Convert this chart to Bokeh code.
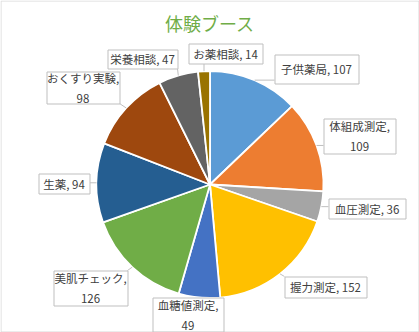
import numpy as np
from bokeh.plotting import figure
from bokeh.models import Range1d, ColumnDataSource
from bokeh.core.properties import value
from bokeh.embed import file_html
from bokeh.resources import INLINE

# ---------------- data ----------------
title_text = "体験ブース"
categories = ["子供薬局", "体組成測定", "血圧測定", "握力測定", "血糖値測定",
              "美肌チェック", "生薬", "おくすり実験", "栄養相談", "お薬相談"]
counts = [107, 109, 36, 152, 49, 126, 94, 98, 47, 14]

# ---------------- styles / layout ----------------
colors = ["#5B9BD5", "#ED7D31", "#A5A5A5", "#FFC000", "#4472C4",
          "#70AD47", "#255E91", "#9E480E", "#636363", "#997300"]
W, H = 419, 332
CX, CY, R = 209.5, 184.0, 113.5          # pie centre/radius, pixels from top-left
# label boxes (left, top, right, bottom), pixels from top-left
label_boxes = [(274, 54, 358, 83), (323, 118, 395, 153), (328, 198, 405, 218),
               (284, 276, 366, 297), (152, 297, 223, 331), (53, 270, 127, 305),
               (38, 173, 89, 193), (46, 71, 119, 103), (107, 49, 177, 68),
               (188, 43, 262, 63)]
label_wrap = [False, True, False, False, True, True, False, True, False, False]
FONT = value("Noto Sans CJK JP")
TXT = "#404040"

def fy(y):  # top-down pixel -> data y
    return H - y

p = figure(width=W, height=H, output_backend="svg", toolbar_location=None,
           x_range=Range1d(0, W), y_range=Range1d(0, H), min_border=0)
p.axis.visible = False
p.grid.visible = False
p.outline_line_color = None
p.background_fill_color = "white"
p.border_fill_color = "white"

# chart border
p.quad(left=[0.5], right=[W - 0.5], bottom=[0.5], top=[H - 0.5],
       fill_color=None, line_color="#D9D9D9", line_width=1)

total = float(sum(counts))
cum = np.cumsum([0] + counts)
starts = [np.pi / 2 - 2 * np.pi * cum[i] / total for i in range(len(counts))]
ends = [np.pi / 2 - 2 * np.pi * cum[i + 1] / total for i in range(len(counts))]

src = ColumnDataSource(dict(start=starts, end=ends, color=colors, cat=categories, n=counts))
p.wedge(x=CX, y=fy(CY), radius=R, start_angle="start", end_angle="end",
        direction="clock", fill_color="color", line_color="white", line_width=1.8,
        source=src)

# leader lines
lx0, ly0, lx1, ly1 = [], [], [], []
for i in range(len(counts)):
    mid = (starts[i] + ends[i]) / 2
    ax = CX + R * np.cos(mid)
    ay = CY - R * np.sin(mid)
    l, t, r, b = label_boxes[i]
    nx = min(max(ax, l), r)
    ny = min(max(ay, t), b)
    if np.hypot(nx - ax, ny - ay) > 3:
        lx0.append(ax); ly0.append(fy(ay)); lx1.append(nx); ly1.append(fy(ny))
p.segment(x0=lx0, y0=ly0, x1=lx1, y1=ly1, line_color="#BFBFBF", line_width=1)

# label boxes
p.quad(left=[b[0] + 0.5 for b in label_boxes], right=[b[2] + 0.5 for b in label_boxes],
       top=[fy(b[1] + 0.5) for b in label_boxes], bottom=[fy(b[3] + 0.5) for b in label_boxes],
       fill_color="white", line_color="#BFBFBF", line_width=1)

texts = [f"{c},\n{n}" if w else f"{c}, {n}" for c, n, w in zip(categories, counts, label_wrap)]
p.text(x=[(b[0] + b[2]) / 2 for b in label_boxes],
       y=[fy((b[1] + b[3]) / 2) for b in label_boxes],
       text=texts, text_align="center", text_baseline="middle",
       text_font=FONT, text_font_size="11.5px", text_color=TXT, text_line_height=1.25)

# title
p.text(x=[W / 2], y=[fy(22)], text=[title_text], text_align="center",
       text_baseline="middle", text_font=FONT, text_font_size="18px",
       text_color="#70AD47")

open("out.html", "w").write(file_html(p, INLINE))
